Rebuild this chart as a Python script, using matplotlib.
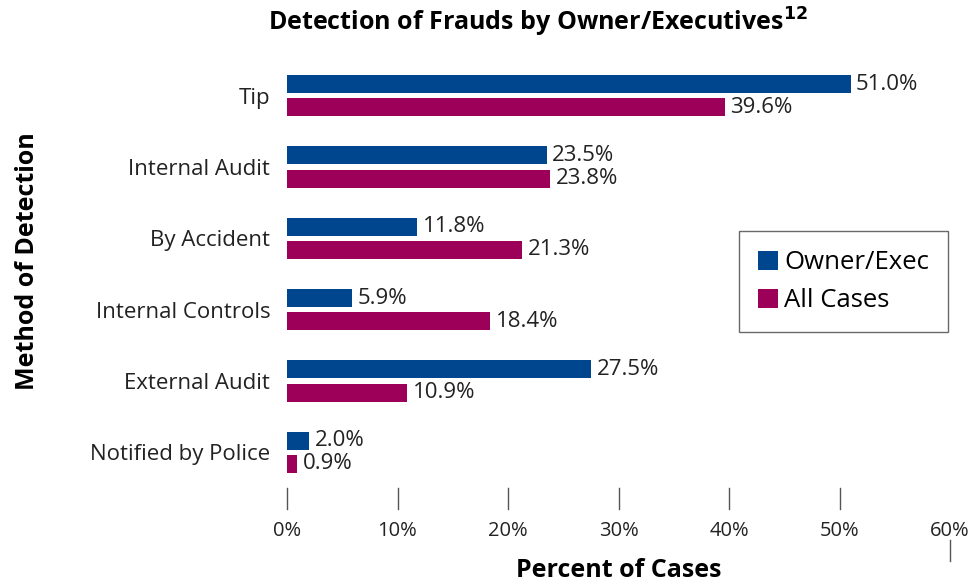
import matplotlib
matplotlib.use("Agg")
import matplotlib.pyplot as plt
import numpy as np

plt.rcParams['font.family'] = ['Open Sans', 'DejaVu Sans']

categories = ['Tip', 'Internal Audit', 'By Accident', 'Internal Controls',
              'External Audit', 'Notified by Police']
owner_exec = [51.0, 23.5, 11.8, 5.9, 27.5, 2.0]
all_cases = [39.6, 23.8, 21.3, 18.4, 10.9, 0.9]
tick_vals = [0, 10, 20, 30, 40, 50, 60]

blue = '#00468f'
magenta = '#9c0058'

fig = plt.figure(figsize=(9.76, 5.82), dpi=100)
ax = fig.add_axes([287 / 976, 1 - 488 / 582, (950 - 287) / 976, 428 / 582])

y = np.arange(len(categories))
h = 0.25
off = 0.163
ax.barh(y - off, owner_exec, height=h, color=blue, label='Owner/Exec')
ax.barh(y + off, all_cases, height=h, color=magenta, label='All Cases')

for yi, v in zip(y, owner_exec):
    ax.text(v + 0.5, yi - off, f'{v:.1f}%', va='center', ha='left', fontsize=16, color='#222222')
for yi, v in zip(y, all_cases):
    ax.text(v + 0.5, yi + off, f'{v:.1f}%', va='center', ha='left', fontsize=16, color='#222222')

ax.set_xlim(0, 60)
ax.set_ylim(len(categories) - 0.5, -0.5)
ax.set_yticks(y)
ax.set_yticklabels(categories, fontsize=16, color='#222222')
ax.tick_params(axis='y', length=0, pad=12)
ax.set_xticks(tick_vals)
ax.set_xticklabels([f'{t}%' for t in tick_vals], fontsize=14.5, color='#222222')
ax.tick_params(axis='x', length=0, pad=24)
for s in ax.spines.values():
    s.set_visible(False)

tr = ax.get_xaxis_transform()
for t in tick_vals[:-1]:
    ax.plot([t, t], [0, -0.048], transform=tr, color='#555555', lw=1, clip_on=False)
ax.plot([60, 60], [-0.122, -0.17], transform=tr, color='#555555', lw=1, clip_on=False)

ax.set_xlabel('Percent of Cases', fontsize=18, fontweight='bold', labelpad=12)
fig.text(28 / 976, 1 - 261 / 582, 'Method of Detection', rotation=90,
         ha='center', va='center', fontsize=18, fontweight='bold')

fig.text(538 / 976, 1 - 22 / 582, 'Detection of Frauds by Owner/Executives$^{\\mathbf{12}}$',
         ha='center', va='center', fontsize=18, fontweight='bold')

leg = ax.legend(loc='upper left', bbox_to_anchor=((739 - 287) / 663, 1 - (231 - 60) / 428),
                fontsize=18.5, frameon=True, fancybox=False, edgecolor='#444444',
                handlelength=0.75, handleheight=0.75, handletextpad=0.25,
                borderpad=0.75, labelspacing=0.5, borderaxespad=0)
leg.get_frame().set_linewidth(1)

fig.savefig('out.png', dpi=100)
